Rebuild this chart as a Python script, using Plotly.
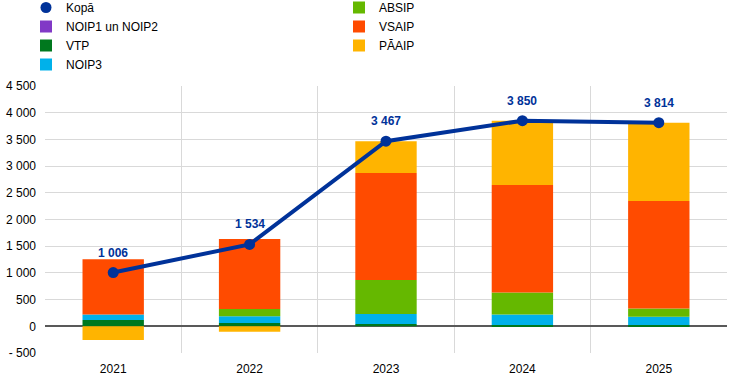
import plotly.graph_objects as go

years = ["2021", "2022", "2023", "2024", "2025"]
noip12 = [0, 0, 0, 0, 0]
vtp = [120, 62, 44, 25, 25]
noip3 = [100, 125, 187, 194, 156]
absip = [0, 137, 637, 412, 150]
vsaip = [1036, 1311, 2003, 2015, 2015]
paaip = [-257, -100, 596, 1204, 1468]
kopa = [1006, 1534, 3467, 3850, 3814]

ytick_vals = [-500, 0, 500, 1000, 1500, 2000, 2500, 3000, 3500, 4000, 4500]
ytick_text = ["- 500", "0", "500", "1 000", "1 500", "2 000", "2 500", "3 000", "3 500", "4 000", "4 500"]

def fmt(v):
    return f"{v:,}".replace(",", " ")

W, H = 736, 389
L, R, T, B = 45, 9, 86, 36
PW, PH = W - L - R, H - T - B

def px_x(px):
    return (px - L) / PW

def px_y(py):
    return (H - B - py) / PH

fig = go.Figure()

bar_series = [
    ("NOIP1 un NOIP2", noip12, "#8139c6", "legend"),
    ("VTP", vtp, "#00781e", "legend"),
    ("NOIP3", noip3, "#00b1ea", "legend"),
    ("ABSIP", absip, "#65b800", "legend2"),
    ("VSAIP", vsaip, "#ff4b00", "legend2"),
    ("PĀAIP", paaip, "#ffb400", "legend2"),
]

for name, vals, col, lg in bar_series:
    fig.add_trace(go.Bar(x=years, y=vals, name=name, marker=dict(color=col, line=dict(width=0)),
                         legend=lg))

# legend-only marker for Kopā
fig.add_trace(go.Scatter(x=[years[0]], y=[None], mode="markers", name="Kopā",
                         marker=dict(color="#003299", size=11), legend="legend",
                         legendrank=1))

fig.add_trace(go.Scatter(x=years, y=kopa, mode="lines+markers", name="Kopā",
                         line=dict(color="#003299", width=4),
                         marker=dict(color="#003299", size=11), showlegend=False))

for i, v in enumerate(kopa):
    fig.add_annotation(x=i, y=v, text="<b>" + fmt(v) + "</b>", showarrow=False, yshift=20,
                       font=dict(color="#003299", size=12, family="Liberation Sans, Arial"))

fig.update_layout(
    width=W, height=H,
    barmode="relative", bargap=0.55,
    plot_bgcolor="white", paper_bgcolor="white",
    margin=dict(l=L, r=R, t=T, b=B, autoexpand=False),
    font=dict(family="Liberation Sans, Arial", size=12, color="#000000"),
    legend=dict(x=px_x(26), y=px_y(-7), xanchor="left", yanchor="top",
                font=dict(size=12), bgcolor="rgba(0,0,0,0)",
                traceorder="normal", tracegroupgap=0),
    legend2=dict(x=px_x(339), y=px_y(-7), xanchor="left", yanchor="top",
                 font=dict(size=12), bgcolor="rgba(0,0,0,0)",
                 traceorder="normal", tracegroupgap=0),
    showlegend=True,
)

fig.update_xaxes(type="category", categoryorder="array", categoryarray=years,
                 range=[-0.5, len(years) - 0.5],
                 tickson="boundaries", showgrid=True, gridcolor="#d9d9d9",
                 gridwidth=1, ticks="", showline=False, tickfont=dict(size=12),
                 tickangle=0, ticklabelstandoff=7)
fig.update_yaxes(range=[-500, 4500], tickvals=ytick_vals, ticktext=ytick_text,
                 showgrid=True, gridcolor="#d9d9d9", gridwidth=1,
                 zeroline=True, zerolinecolor="#595959", zerolinewidth=1.5,
                 ticks="", showline=False, tickfont=dict(size=12), ticklabelstandoff=8)

fig.write_html("out.html", config={"displayModeBar": False},
               post_script="document.body.style.margin='0';")
